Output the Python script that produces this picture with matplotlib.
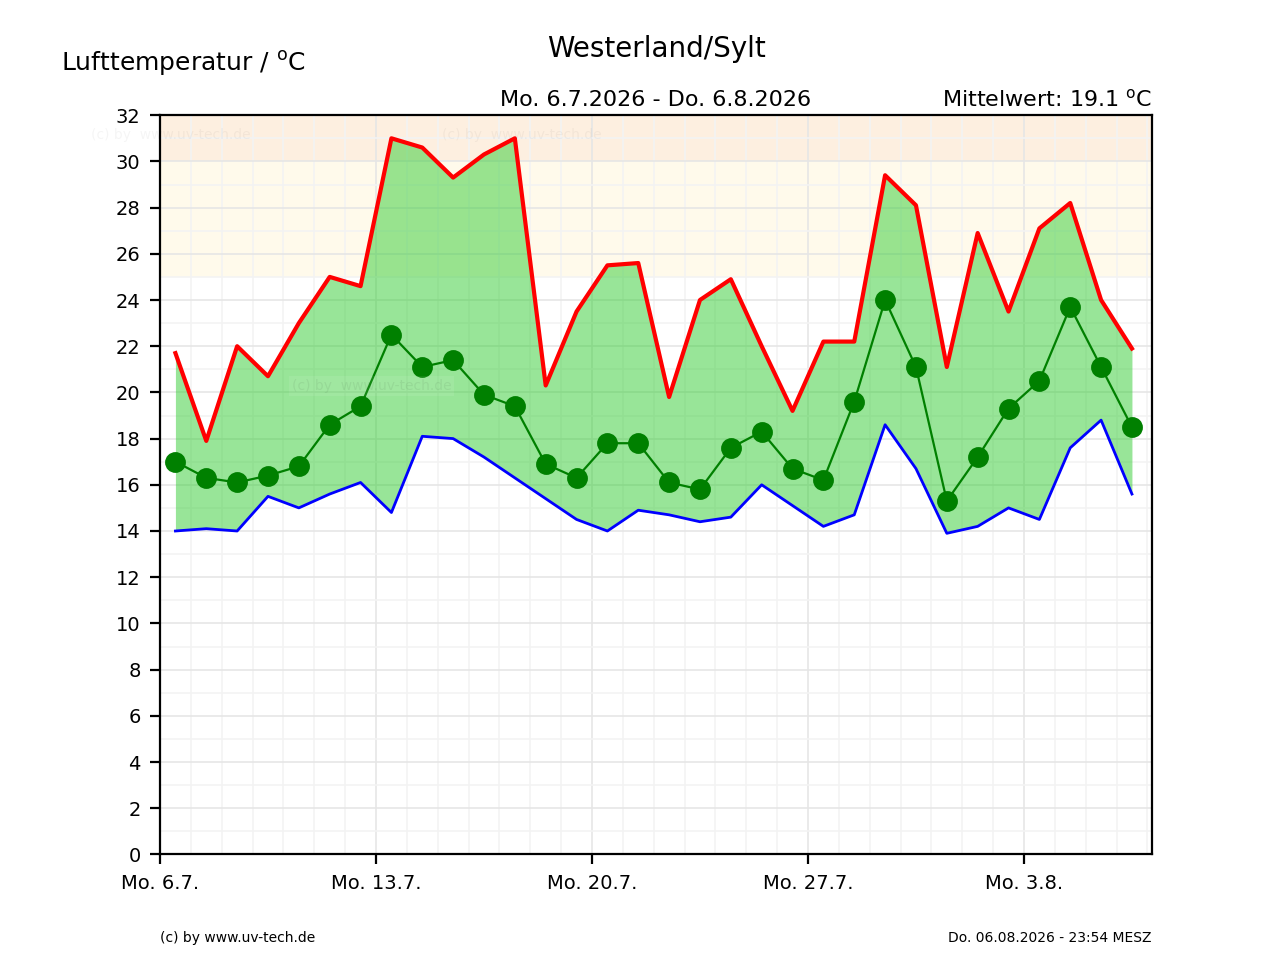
import numpy as np
import matplotlib
matplotlib.use("Agg")
import matplotlib.pyplot as plt
from matplotlib.ticker import MultipleLocator

# daily values Mo. 6.7. - Do. 6.8.
t_max = [21.7, 17.9, 22.0, 20.7, 23.0, 25.0, 24.6, 31.0, 30.6, 29.3, 30.3, 31.0,
         20.3, 23.5, 25.5, 25.6, 19.8, 24.0, 24.9, 22.0, 19.2, 22.2, 22.2, 29.4,
         28.1, 21.1, 26.9, 23.5, 27.1, 28.2, 24.0, 21.9]
t_mean = [17.0, 16.3, 16.1, 16.4, 16.8, 18.6, 19.4, 22.5, 21.1, 21.4, 19.9, 19.4,
          16.9, 16.3, 17.8, 17.8, 16.1, 15.8, 17.6, 18.3, 16.7, 16.2, 19.6, 24.0,
          21.1, 15.3, 17.2, 19.3, 20.5, 23.7, 21.1, 18.5]
t_min = [14.0, 14.1, 14.0, 15.5, 15.0, 15.6, 16.1, 14.8, 18.1, 18.0, 17.2, 16.3,
         15.4, 14.5, 14.0, 14.9, 14.7, 14.4, 14.6, 16.0, 15.1, 14.2, 14.7, 18.6,
         16.7, 13.9, 14.2, 15.0, 14.5, 17.6, 18.8, 15.6]
week_labels = ["Mo. 6.7.", "Mo. 13.7.", "Mo. 20.7.", "Mo. 27.7.", "Mo. 3.8."]

x = np.arange(len(t_max)) + 0.5

fig = plt.figure(figsize=(6.4, 4.8), dpi=200)
ax = fig.add_subplot(111)

# comfort bands
ax.axhspan(25, 30, color="#fffaeb", zorder=0, lw=0)
ax.axhspan(30, 32, color="#fdefe0", zorder=0, lw=0)

ax.fill_between(x, t_min, t_max, color="limegreen", alpha=0.5, lw=0, zorder=2)
ax.plot(x, t_max, color="red", lw=1.5, zorder=4)
ax.plot(x, t_min, color="blue", lw=1.0, zorder=4)
ax.plot(x, t_mean, color="green", lw=0.8, marker="o", markersize=6.5, zorder=5)

ax.set_xlim(0, 32.15)
ax.set_ylim(0, 32)
ax.set_xticks(np.arange(0, 29, 7))
ax.set_xticklabels(week_labels)
ax.xaxis.set_minor_locator(MultipleLocator(1))
ax.yaxis.set_major_locator(MultipleLocator(2))
ax.yaxis.set_minor_locator(MultipleLocator(1))
ax.tick_params(axis="both", which="major", labelsize=7)
ax.tick_params(axis="both", which="minor", length=0)
ax.grid(which="major", color="#e6e6e6", lw=0.6, zorder=1)
ax.grid(which="minor", color="#f3f3f3", lw=0.6, zorder=1)
ax.set_axisbelow(True)

# watermarks
wm = "(c) by  www.uv-tech.de"
fig.text(0.071, 0.855, wm, fontsize=5, color="#000000", alpha=0.04)
fig.text(0.345, 0.855, wm, fontsize=5, color="#000000", alpha=0.04)
fig.text(0.228, 0.594, wm, fontsize=5, color="#000000", alpha=0.06,
         bbox=dict(facecolor="white", alpha=0.08, lw=0, pad=1))

fig.text(0.5125, 0.949, "Westerland/Sylt", fontsize=10, ha="center", va="center")
fig.text(0.048, 0.934, r"Lufttemperatur / $^{\mathsf{o}}$C", fontsize=9, ha="left", va="center")
fig.text(0.512, 0.896, "Mo. 6.7.2026 - Do. 6.8.2026", fontsize=8, ha="center", va="center")
fig.text(0.9, 0.896, r"Mittelwert: 19.1 $^{\mathsf{o}}$C", fontsize=8, ha="right", va="center")
fig.text(0.125, 0.023, "(c) by www.uv-tech.de", fontsize=5, ha="left", va="center")
fig.text(0.9, 0.023, "Do. 06.08.2026 - 23:54 MESZ", fontsize=5, ha="right", va="center")

fig.savefig("out.png", dpi=200)
